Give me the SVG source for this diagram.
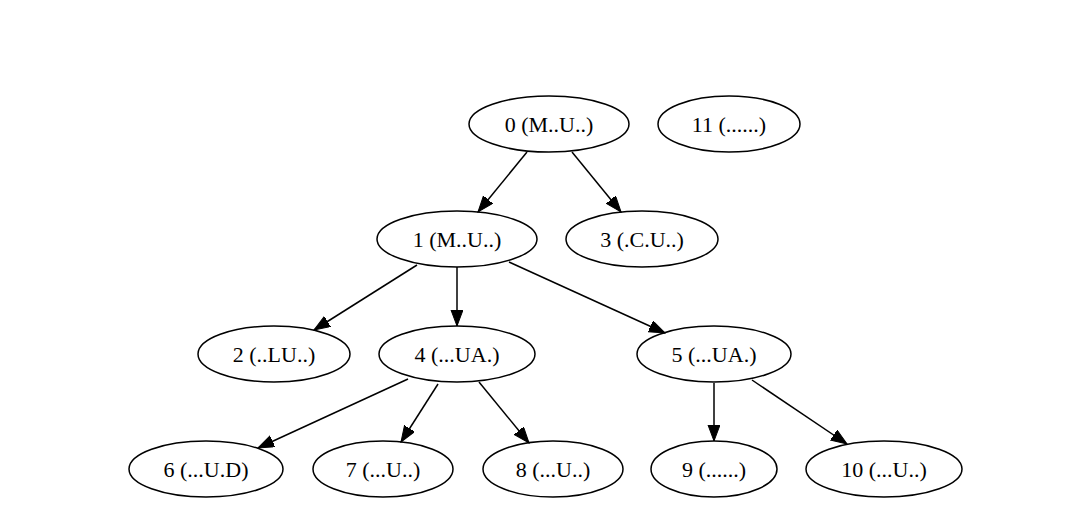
<svg xmlns="http://www.w3.org/2000/svg" width="1086" height="526" viewBox="0 0 1086 526">
<style>
.n ellipse{fill:none;stroke:#000;stroke-width:1.5}
.n text{font-family:"Liberation Serif","Times New Roman",serif;font-size:22px;fill:#000;text-anchor:middle;dominant-baseline:central}
.e line{stroke:#000;stroke-width:1.5;marker-end:url(#ah)}
</style>
<defs>
<marker id="ah" markerUnits="userSpaceOnUse" markerWidth="17" markerHeight="13" refX="16" refY="6" orient="auto">
<path d="M0,0 L16,6 L0,12 Z" fill="#000" stroke="#000" stroke-width="1"/>
</marker>
</defs>
<rect width="1086" height="526" fill="#fff"/>
<g id="edges" class="e">
<line x1="527" y1="152" x2="478" y2="212"/>
<line x1="572" y1="152" x2="621" y2="212"/>
<line x1="417" y1="265" x2="314" y2="330"/>
<line x1="457" y1="267" x2="457" y2="326"/>
<line x1="509" y1="262" x2="665" y2="333"/>
<line x1="408" y1="379" x2="258" y2="448"/>
<line x1="438" y1="384" x2="401" y2="442"/>
<line x1="479" y1="382" x2="529" y2="443"/>
<line x1="714" y1="383" x2="714" y2="441"/>
<line x1="752" y1="380" x2="847" y2="444"/>
</g>
<g id="node0" class="n"><ellipse cx="549" cy="124" rx="80" ry="28"/><text x="549" y="124">0 (M..U..)</text></g>
<g id="node11" class="n"><ellipse cx="729" cy="124" rx="71" ry="28"/><text x="729" y="124">11 (......)</text></g>
<g id="node1" class="n"><ellipse cx="457" cy="239" rx="80" ry="28"/><text x="457" y="239">1 (M..U..)</text></g>
<g id="node3" class="n"><ellipse cx="642" cy="239" rx="76" ry="28"/><text x="642" y="239">3 (.C.U..)</text></g>
<g id="node2" class="n"><ellipse cx="274" cy="354" rx="76" ry="28"/><text x="274" y="354">2 (..LU..)</text></g>
<g id="node4" class="n"><ellipse cx="457" cy="354" rx="78" ry="28"/><text x="457" y="354">4 (...UA.)</text></g>
<g id="node5" class="n"><ellipse cx="714" cy="354" rx="77" ry="28"/><text x="714" y="354">5 (...UA.)</text></g>
<g id="node6" class="n"><ellipse cx="206" cy="469" rx="77" ry="28"/><text x="206" y="469">6 (...U.D)</text></g>
<g id="node7" class="n"><ellipse cx="383" cy="469" rx="70" ry="28"/><text x="383" y="469">7 (...U..)</text></g>
<g id="node8" class="n"><ellipse cx="553" cy="469" rx="70" ry="28"/><text x="553" y="469">8 (...U..)</text></g>
<g id="node9" class="n"><ellipse cx="714" cy="469" rx="63" ry="28"/><text x="714" y="469">9 (......)</text></g>
<g id="node10" class="n"><ellipse cx="884" cy="469" rx="78" ry="28"/><text x="884" y="469">10 (...U..)</text></g>
</svg>
